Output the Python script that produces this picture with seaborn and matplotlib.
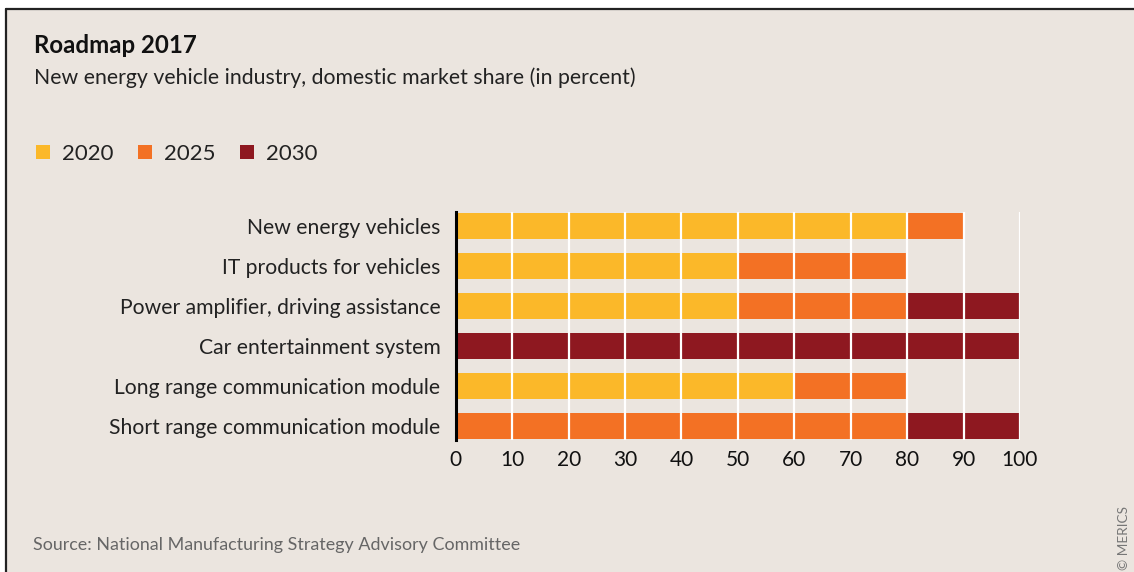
import matplotlib
matplotlib.use("Agg")
import matplotlib.pyplot as plt
from matplotlib.patches import Patch, Rectangle
from matplotlib.lines import Line2D
import pandas as pd
import seaborn as sns

categories = [
    "New energy vehicles",
    "IT products for vehicles",
    "Power amplifier, driving assistance",
    "Car entertainment system",
    "Long range communication module",
    "Short range communication module",
]
share_2020 = [80, 50, 50, 0, 60, 0]
share_2025 = [10, 30, 30, 0, 20, 80]
share_2030 = [0, 0, 20, 100, 0, 20]
years = ["2020", "2025", "2030"]
colors = {"2020": "#FBB829", "2025": "#F37124", "2030": "#8E1820"}

bg = "#EBE5DF"
sns.set_style("white")
plt.rcParams["font.family"] = ["Lato", "DejaVu Sans"]

df = pd.DataFrame({"category": categories, "2020": share_2020,
                   "2025": share_2025, "2030": share_2030})
# cumulative ends, drawn longest first so shorter ones sit on top
df["end_2020"] = df["2020"]
df["end_2025"] = df["end_2020"] + df["2025"]
df["end_2030"] = df["end_2025"] + df["2030"]

fig = plt.figure(figsize=(11.34, 5.72), dpi=100)
fig.patch.set_facecolor(bg)
ax = fig.add_axes([0.402, 0.2308, 0.4974, 0.3986])
ax.set_facecolor(bg)

for yr in ["2030", "2025", "2020"]:
    sns.barplot(data=df, y="category", x="end_" + yr, color=colors[yr],
                orient="h", width=0.66, ax=ax, saturation=1, linewidth=0)

ax.set_xlim(0, 100)
ax.set_ylim(5.35, -0.35)
ax.set_xticks(range(0, 101, 10))
ax.set_xlabel("")
ax.set_ylabel("")
ax.grid(axis="x", color="white", linewidth=1.6)
ax.grid(axis="y", visible=False)
ax.set_axisbelow(False)
for s in ["top", "right", "bottom"]:
    ax.spines[s].set_visible(False)
ax.spines["left"].set_color("black")
ax.spines["left"].set_linewidth(2.2)
ax.spines["left"].set_zorder(5)
ax.tick_params(axis="y", length=0, pad=11, labelsize=15.2, labelcolor="#222222")
ax.tick_params(axis="x", length=0, pad=7, labelsize=15, labelcolor="#111111")

# frame: white margin with black line at top and left
fig.add_artist(Rectangle((0, 0.984), 1, 0.016, transform=fig.transFigure,
                         facecolor="white", edgecolor="none"))
fig.add_artist(Rectangle((0, 0), 0.0053, 1, transform=fig.transFigure,
                         facecolor="white", edgecolor="none"))
fig.add_artist(Line2D([0.0053, 1], [0.984, 0.984], transform=fig.transFigure,
                      color="#222222", linewidth=1.6))
fig.add_artist(Line2D([0.0053, 0.0053], [0, 0.984], transform=fig.transFigure,
                      color="#222222", linewidth=1.6))

fig.text(0.030, 0.920, "Roadmap 2017", fontsize=17.3, fontweight="bold",
         color="#111111", va="center")
fig.text(0.030, 0.865, "New energy vehicle industry, domestic market share (in percent)",
         fontsize=15.3, color="#222222", va="center")

handles = [Patch(facecolor=colors[y], edgecolor="none") for y in years]
fig.legend(handles, years, loc="center left", bbox_to_anchor=(0.0145, 0.731),
           ncol=3, frameon=False, fontsize=16, handlelength=0.62,
           handleheight=0.62, handletextpad=0.55, columnspacing=1.1,
           labelcolor="#222222")

fig.text(0.029, 0.047, "Source: National Manufacturing Strategy Advisory Committee",
         fontsize=12.9, color="#666666", va="center")
fig.text(0.991, 0.06, "© MERICS", fontsize=9.8, color="#777777",
         rotation=90, ha="center", va="center")

fig.savefig("out.png", dpi=100, facecolor=fig.get_facecolor())
